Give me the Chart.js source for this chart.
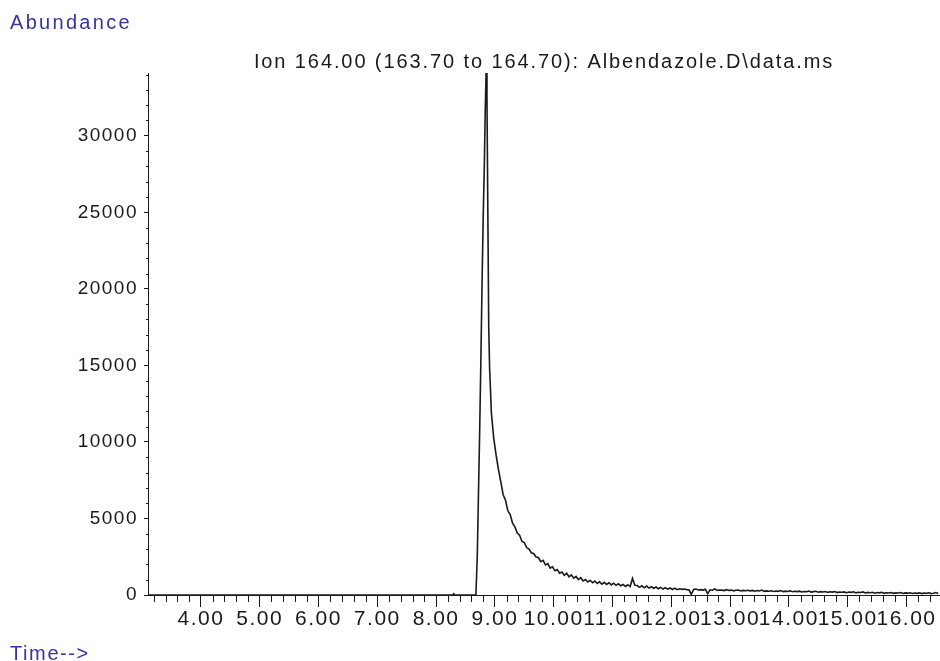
<!DOCTYPE html>
<html lang="en">
<head>
    <meta charset="UTF-8">
    <title>Ion 164.00 chromatogram</title>
    <style>
        html, body { margin: 0; padding: 0; background: #fff; }
        #chromChart { display: block; }
    </style>
</head>
<body>
    <canvas id="chromChart" width="940" height="661"></canvas>

    <script src="https://cdn.jsdelivr.net/npm/chart.js"></script>
    <script>
        // scan times (min) and abundance
        const peakTimes = [3.10, 8.28, 8.30, 8.32, 8.677, 8.70, 8.72, 8.74, 8.76, 8.78, 8.80, 8.82, 8.835, 8.85, 8.865, 8.88, 8.895, 8.91, 8.925];
        const peakAbund = [0, 0, 80, 0, 0, 2500, 6500, 10500, 15000, 20000, 24500, 28000, 31500, 34100, 32400, 25000, 17500, 14800, 13400];

        const tailTimes = [
            8.94, 8.98, 9.02, 9.06, 9.10, 9.14, 9.18, 9.22, 9.26, 9.30,
            9.34, 9.38, 9.42, 9.46, 9.50, 9.54, 9.58, 9.62, 9.66, 9.70,
            9.74, 9.78, 9.82, 9.86, 9.90, 9.94, 9.98, 10.02, 10.06, 10.10,
            10.14, 10.18, 10.22, 10.26, 10.30, 10.34, 10.38, 10.42, 10.46, 10.50,
            10.54, 10.58, 10.62, 10.66, 10.70, 10.74, 10.78, 10.82, 10.86, 10.90,
            10.94, 10.98, 11.02, 11.06, 11.10, 11.14, 11.18, 11.22, 11.26, 11.30,
            11.34, 11.38, 11.42, 11.46, 11.50, 11.54, 11.58, 11.62, 11.66, 11.70,
            11.74, 11.78, 11.82, 11.86, 11.90, 11.94, 11.98, 12.02, 12.06, 12.10,
            12.14, 12.18, 12.22, 12.26, 12.30, 12.34, 12.38, 12.42, 12.46, 12.50,
            12.54, 12.58, 12.62, 12.66, 12.70, 12.74, 12.78, 12.82, 12.86, 12.90,
            12.94, 12.98, 13.02, 13.06, 13.10, 13.14, 13.18, 13.22, 13.26, 13.30,
            13.34, 13.38, 13.42, 13.46, 13.50, 13.54, 13.58, 13.62, 13.66, 13.70,
            13.74, 13.78, 13.82, 13.86, 13.90, 13.94, 13.98, 14.02, 14.06, 14.10,
            14.14, 14.18, 14.22, 14.26, 14.30, 14.34, 14.38, 14.42, 14.46, 14.50,
            14.54, 14.58, 14.62, 14.66, 14.70, 14.74, 14.78, 14.82, 14.86, 14.90,
            14.94, 14.98, 15.02, 15.06, 15.10, 15.14, 15.18, 15.22, 15.26, 15.30,
            15.34, 15.38, 15.42, 15.46, 15.50, 15.54, 15.58, 15.62, 15.66, 15.70,
            15.74, 15.78, 15.82, 15.86, 15.90, 15.94, 15.98, 16.02, 16.06, 16.10,
            16.14, 16.18, 16.22, 16.26, 16.30, 16.34, 16.38, 16.42, 16.46, 16.50,
            16.54
        ];
        const tailAbund = [
            11900, 10250, 9150, 8200, 7400, 6550, 6200, 5500, 5250, 4700,
            4450, 4050, 3900, 3500, 3420, 3100, 3000, 2760, 2700, 2480,
            2450, 2180, 2260, 1960, 2050, 1760, 1840, 1580, 1660, 1420,
            1500, 1290, 1420, 1190, 1310, 1100, 1210, 1000, 1130, 920,
            1010, 850, 960, 800, 910, 750, 860, 710, 830, 690,
            800, 660, 770, 630, 730, 600, 690, 560, 670, 550,
            1080, 640, 620, 500, 600, 470, 580, 450, 540, 440,
            520, 410, 500, 390, 480, 380, 460, 360, 450, 350,
            410, 370, 390, 350, 340, 40, 360, 390, 330, 350,
            320, 370, 90, 340, 310, 400, 300, 330, 320, 290,
            350, 300, 320, 270, 310, 330, 260, 300, 280, 310,
            270, 300, 250, 290, 260, 320, 240, 270, 250, 280,
            230, 260, 240, 290, 220, 250, 230, 270, 210, 240,
            220, 250, 200, 230, 210, 260, 190, 220, 240, 180,
            220, 200, 230, 170, 210, 190, 230, 160, 200, 180,
            200, 150, 190, 170, 210, 140, 180, 160, 200, 130,
            170, 150, 180, 120, 160, 140, 180, 110, 150, 130,
            160, 110, 140, 130, 160, 100, 140, 120, 150, 100,
            130, 110, 140, 90, 120, 110, 140, 90, 110, 160,
            100
        ];

        // axis ranges and labelled ticks
        const xMin = 3.10, xMax = 16.57;
        const yMin = 0, yMax = 34100;
        const xTickValues = [4, 5, 6, 7, 8, 9, 10, 11, 12, 13, 14, 15, 16];
        const yTickValues = [0, 5000, 10000, 15000, 20000, 25000, 30000];

        const titleText = 'Ion 164.00 (163.70 to 164.70): Albendazole.D\\data.ms';
        const yAxisText = 'Abundance';
        const xAxisText = 'Time-->';

        const inkBlue = '#35359a';
        const inkDark = '#1a1a1a';
        const fontFam = '"Liberation Sans", Arial, sans-serif';

        let points = [];
        peakTimes.forEach((t, i) => points.push({ x: t, y: peakAbund[i] }));
        tailTimes.forEach((t, i) => points.push({ x: t, y: tailAbund[i] }));

        // minor ticks + free text (Chart.js only does one tick length per axis)
        const decor = {
            id: 'decor',
            beforeDraw(chart) {
                chart.ctx.letterSpacing = '1.5px';
            },
            afterDraw(chart) {
                const { ctx, scales } = chart;
                const xs = scales.x, ys = scales.y;
                const axisX = xs.left, axisY = ys.bottom;
                ctx.save();
                ctx.strokeStyle = inkDark;
                ctx.lineWidth = 1;
                ctx.beginPath();
                for (let v = 1000; v <= yMax; v += 1000) {
                    if (v % 5000 === 0) continue;
                    const py = Math.round(ys.getPixelForValue(v)) + 0.5;
                    ctx.moveTo(axisX - 2, py);
                    ctx.lineTo(axisX, py);
                }
                for (let k = 16; k <= 165; k++) {
                    if (k % 5 === 0) continue;
                    const px = Math.round(xs.getPixelForValue(k / 5)) + 0.5;
                    if (px < axisX || px > xs.right) continue;
                    ctx.moveTo(px, axisY);
                    ctx.lineTo(px, axisY + 7);
                }
                ctx.stroke();

                ctx.textBaseline = 'alphabetic';
                ctx.fillStyle = inkDark;
                ctx.font = '20px ' + fontFam;
                ctx.letterSpacing = '1.9px';
                ctx.textAlign = 'center';
                ctx.fillText(titleText, (xs.left + xs.right) / 2, 68);

                ctx.fillStyle = inkBlue;
                ctx.textAlign = 'left';
                ctx.font = '20px ' + fontFam;
                ctx.letterSpacing = '2.3px';
                ctx.fillText(yAxisText, 10, 29);
                ctx.letterSpacing = '1.6px';
                ctx.fillText(xAxisText, 10, 660);
                ctx.restore();
            }
        };

        const ctx = document.getElementById('chromChart').getContext('2d');
        const chromChart = new Chart(ctx, {
            type: 'line',
            data: {
                datasets: [{
                    data: points,
                    borderColor: inkDark,
                    borderWidth: 1.6,
                    pointRadius: 0,
                    tension: 0,
                    fill: false
                }]
            },
            options: {
                responsive: false,
                animation: false,
                events: [],
                layout: { padding: { top: 73, left: 0, right: 0, bottom: 0 } },
                plugins: {
                    legend: { display: false },
                    tooltip: { enabled: false },
                    title: { display: false }
                },
                scales: {
                    x: {
                        type: 'linear',
                        min: xMin,
                        max: xMax,
                        afterFit: (s) => { s.height = 66; },
                        afterBuildTicks: (s) => {
                            s.ticks = xTickValues.map(v => ({ value: v }));
                        },
                        border: { display: true, color: inkDark, width: 1 },
                        grid: { drawOnChartArea: false, drawTicks: true, tickLength: 12, color: inkDark },
                        ticks: {
                            autoSkip: false,
                            maxRotation: 0,
                            padding: 0,
                            color: inkDark,
                            font: { family: fontFam, size: 21 },
                            callback: (v) => Number(v).toFixed(2)
                        }
                    },
                    y: {
                        type: 'linear',
                        min: yMin,
                        max: yMax,
                        afterFit: (s) => { s.width = 148; },
                        afterBuildTicks: (s) => {
                            s.ticks = yTickValues.map(v => ({ value: v }));
                        },
                        border: { display: true, color: inkDark, width: 1 },
                        grid: { drawOnChartArea: false, drawTicks: true, tickLength: 4, color: inkDark },
                        ticks: {
                            autoSkip: false,
                            padding: 6,
                            color: inkDark,
                            font: { family: fontFam, size: 19 },
                            callback: (v) => String(v)
                        }
                    }
                }
            },
            plugins: [decor]
        });
    </script>
</body>
</html>
